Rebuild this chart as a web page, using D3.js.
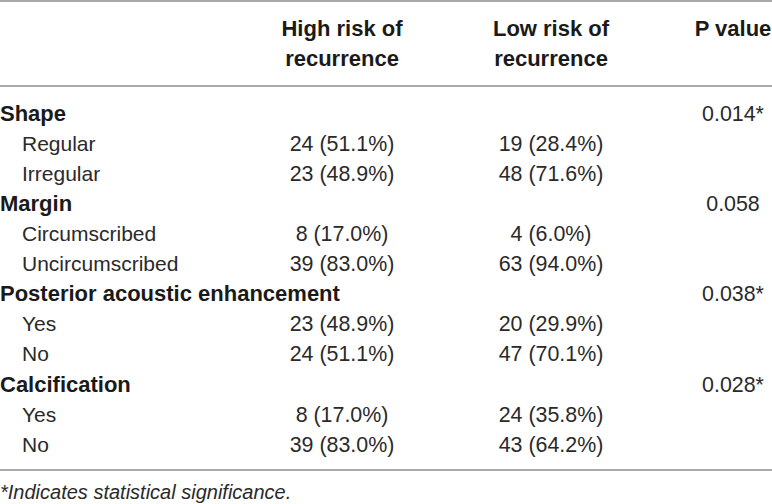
<!DOCTYPE html>
<html>
<head>
<meta charset="utf-8">
<script src="https://cdn.jsdelivr.net/npm/d3@7"></script>
<style>
  html, body { margin: 0; padding: 0; background: #fff; }
  svg { display: block; }
</style>
</head>
<body>
<div id="table-div"></div>
<script>
var width = 772,
    height = 504;

// table content
var headers = [["High risk of", "recurrence"], ["Low risk of", "recurrence"], ["P value"]];
var groups = ["Shape", "Margin", "Posterior acoustic enhancement", "Calcification"];
var levels = [["Regular", "Irregular"], ["Circumscribed", "Uncircumscribed"], ["Yes", "No"], ["Yes", "No"]];
var highCounts = [24, 23, 8, 39, 23, 24, 8, 39];
var highPct = [51.1, 48.9, 17.0, 83.0, 48.9, 51.1, 17.0, 83.0];
var lowCounts = [19, 48, 4, 63, 20, 47, 24, 43];
var lowPct = [28.4, 71.6, 6.0, 94.0, 29.9, 70.1, 35.8, 64.2];
var pValues = [0.014, 0.058, 0.038, 0.028];
var footnote = "*Indicates statistical significance.";

// flatten into rows
var rows = [];
var k = 0;
groups.forEach(function(g, gi) {
  rows.push({label: g, bold: true, p: pValues[gi]});
  levels[gi].forEach(function(l) {
    rows.push({label: l, bold: false, high: highCounts[k], highPct: highPct[k], low: lowCounts[k], lowPct: lowPct[k]});
    k++;
  });
});
rows.forEach(function(d, i) { d.i = i; });

var fmtPct = d3.format(".1f"),
    fmtP = d3.format(".3f");

var y = d3.scaleLinear()
  .domain([0, rows.length - 1])
  .range([120.6, 451.7]);

var x = d3.scaleOrdinal()
  .domain(["high", "low", "p"])
  .range([342, 551, 733]);

var svg = d3.select("#table-div").append("svg")
    .attr("width", width)
    .attr("height", height)
    .style("font-family", "'Liberation Sans', Arial, sans-serif")
    .style("fill", "#2a2a2a");

// rules
[1, 86, 470].forEach(function(ry) {
  svg.append("line")
    .attr("x1", 0).attr("x2", width)
    .attr("y1", ry).attr("y2", ry)
    .style("stroke", "#8c8c8c")
    .style("stroke-width", 1.6);
});

// column headers
var colKeys = ["high", "low", "p"];
headers.forEach(function(h, i) {
  var t = svg.append("text")
    .attr("text-anchor", "middle")
    .style("font-size", "22px")
    .style("font-weight", "bold")
    .style("fill", "#1a1a1a");
  h.forEach(function(line, j) {
    t.append("tspan")
      .attr("x", x(colKeys[i]))
      .attr("y", 36 + j * 29.5)
      .text(line);
  });
});

// row labels
svg.selectAll("text.label")
  .data(rows)
  .enter()
  .append("text")
  .attr("class", "label")
  .attr("x", function(d) { return d.bold ? 0 : 22; })
  .attr("y", function(d) { return y(d.i); })
  .style("font-size", function(d) { return d.bold ? "22px" : "21px"; })
  .style("font-weight", function(d) { return d.bold ? "bold" : "normal"; })
  .style("fill", function(d) { return d.bold ? "#1a1a1a" : null; })
  .text(function(d) { return d.label; });

// high risk / low risk cells
var levelRows = rows.filter(function(d) { return !d.bold; });

svg.selectAll("text.high")
  .data(levelRows)
  .enter()
  .append("text")
  .attr("class", "high")
  .attr("x", x("high"))
  .attr("y", function(d) { return y(d.i); })
  .attr("text-anchor", "middle")
  .style("font-size", "21.4px")
  .text(function(d) { return d.high + " (" + fmtPct(d.highPct) + "%)"; });

svg.selectAll("text.low")
  .data(levelRows)
  .enter()
  .append("text")
  .attr("class", "low")
  .attr("x", x("low"))
  .attr("y", function(d) { return y(d.i); })
  .attr("text-anchor", "middle")
  .style("font-size", "21.4px")
  .text(function(d) { return d.low + " (" + fmtPct(d.lowPct) + "%)"; });

// p values
svg.selectAll("text.p")
  .data(rows.filter(function(d) { return d.bold; }))
  .enter()
  .append("text")
  .attr("class", "p")
  .attr("x", x("p"))
  .attr("y", function(d) { return y(d.i); })
  .attr("text-anchor", "middle")
  .style("font-size", "21.4px")
  .text(function(d) { return fmtP(d.p) + (d.p < 0.05 ? "*" : ""); });

// footnote
svg.append("text")
  .attr("x", 0)
  .attr("y", 499)
  .style("font-size", "20px")
  .style("font-style", "italic")
  .text(footnote);
</script>
</body>
</html>
